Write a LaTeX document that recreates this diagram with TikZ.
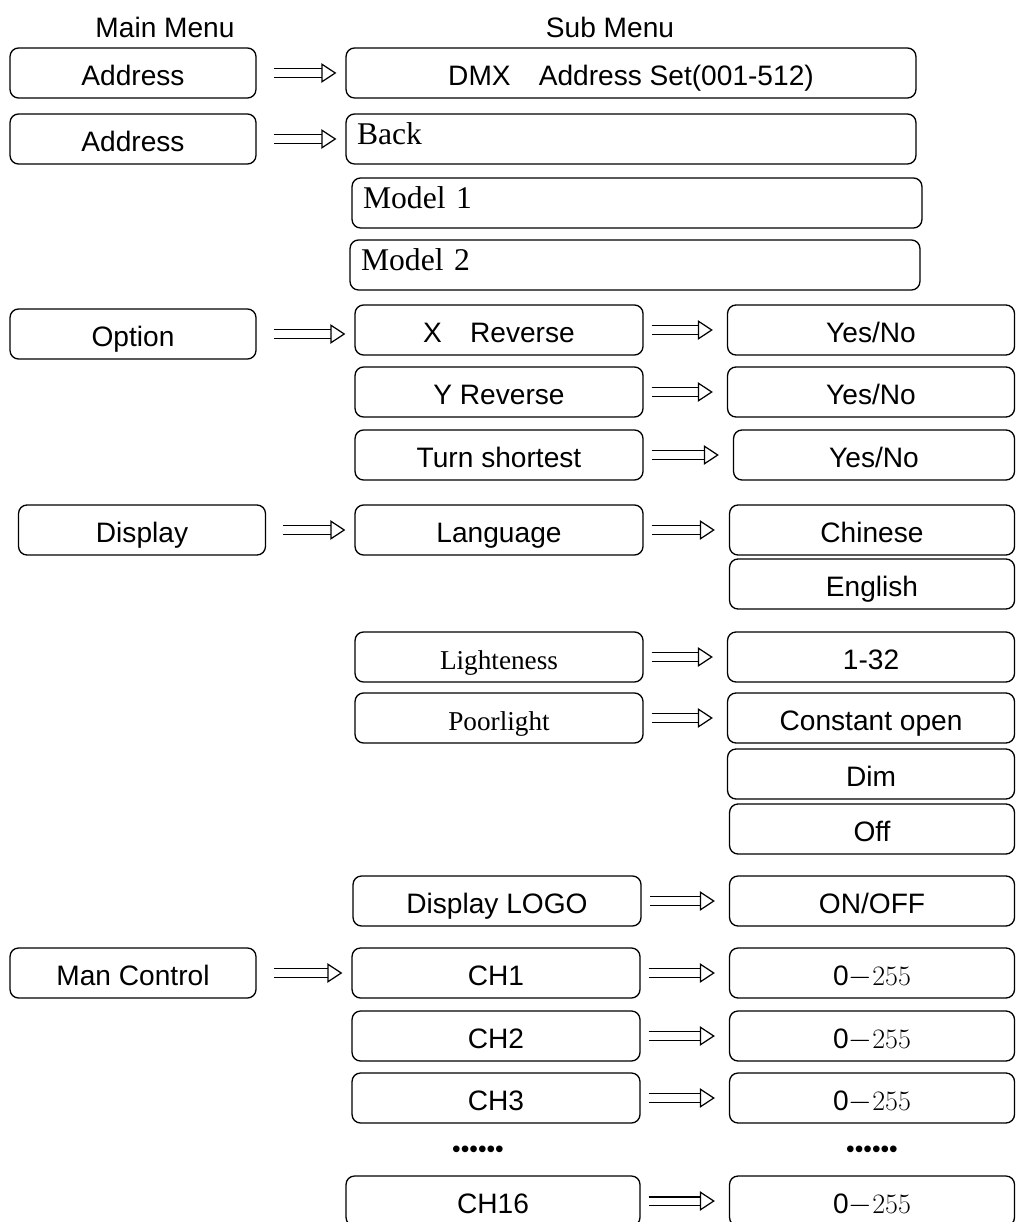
\documentclass[tikz,border=0pt]{standalone}
\usepackage{fontspec}
\setsansfont{Liberation Sans}
\newfontfamily\tms{Liberation Serif}
\usetikzlibrary{arrows.meta}
\tikzset{>=stealth}

\begin{document}
\begin{tikzpicture}[x=0.02cm, y=-0.02cm,
	mhead/.style = {% column titles
		inner sep=0pt, font=\sffamily\fontsize{16}{19}\selectfont},
	bx/.style = {% plain menu box
		draw, line width=0.75pt, rounded corners=0.17cm, inner sep=0pt,
		minimum height=1cm, text height=14pt, text depth=0pt,
		font=\sffamily\fontsize{16}{19}\selectfont},
	lbox/.style = {bx, minimum width=4.92cm},
	sbox/.style = {bx, minimum width=5.76cm},
	rbox/.style = {bx, minimum width=5.74cm},
	wbox/.style = {bx, minimum width=11.4cm},
	tbox/.style = {% serif, left aligned
		text width=10.96cm, inner xsep=0.22cm, align=left,
		text height=12pt, text depth=5.7pt,
		font=\tms\fontsize{18}{21}\selectfont},
	tms/.style = {font=\tms\fontsize{15.5}{18}\selectfont},
	dots/.style = {inner sep=0pt, font=\sffamily\fontsize{14}{16}\selectfont},
	go/.style = {% hollow arrow
		double, line width=0.7pt, double distance=4pt,
		-{Triangle[open, length=8.5pt, width=11pt]},
		shorten <=0.34cm, shorten >=0.18cm},
	go2/.style = {go, shorten <=0.16cm, shorten >=0.28cm},
	]

	\useasboundingbox (0,0) rectangle (1016,1222);

	% titles
	\node[mhead] (mainhd) at (165,27) {Main Menu};
	\node[mhead] (subhd) at (610,27) {Sub Menu};

	% main menu
	\node[lbox] (addr) at (133,73) {Address};
	\node[lbox] (addrb) at (133,139) {Address};
	\node[lbox] (opt) at (133,334) {Option};
	\node[lbox, minimum width=4.94cm] (disp) at (142,530) {Display};
	\node[lbox] (man) at (133,973) {Man Control};

	% sub menu
	\node[wbox] (dmx) at (631,73) {DMX\quad Address Set(001-512)};
	\node[wbox, tbox] (back) at (631,139) {Back};
	\node[wbox, tbox] (mod1) at (637,203) {Model 1};
	\node[wbox, tbox] (mod2) at (635,265) {Model 2};

	\node[sbox] (xrev) at (499,330) {X\quad Reverse};
	\node[sbox] (yrev) at (499,392) {Y Reverse};
	\node[sbox] (turn) at (499,455) {Turn shortest};
	\node[sbox] (lang) at (499,530) {Language};
	\node[sbox, tms] (light) at (499,657) {Lighteness};
	\node[sbox, tms] (poor) at (499,718) {Poorlight};
	\node[sbox] (logo) at (497,901) {Display LOGO};
	\node[sbox] (ch1) at (496,973) {CH1};
	\node[sbox] (ch2) at (496,1036) {CH2};
	\node[sbox] (ch3) at (496,1098) {CH3};
	\node[dots] (dotl) at (478,1152) {••••••};
	\node[sbox, minimum width=5.88cm] (ch16) at (493,1201) {CH16};

	% third level
	\node[rbox] (yes1) at (871,330) {Yes/No};
	\node[rbox] (yes2) at (871,392) {Yes/No};
	\node[rbox, minimum width=5.62cm] (yes3) at (874,455) {Yes/No};
	\node[rbox, minimum width=5.7cm] (chn) at (872,530) {Chinese};
	\node[rbox, minimum width=5.7cm] (eng) at (872,584) {English};
	\node[rbox] (lvl) at (871,657) {1-32};
	\node[rbox] (copen) at (871,718) {Constant open};
	\node[rbox] (dim) at (871,774) {Dim};
	\node[rbox, minimum width=5.7cm] (off) at (872,829) {Off};
	\node[rbox, minimum width=5.7cm] (onoff) at (872,901) {ON/OFF};
	\node[rbox, minimum width=5.7cm] (val1) at (872,973) {0$-${\rmfamily 255}};
	\node[rbox, minimum width=5.7cm] (val2) at (872,1036) {0$-${\rmfamily 255}};
	\node[rbox, minimum width=5.7cm] (val3) at (872,1098) {0$-${\rmfamily 255}};
	\node[dots] (dotr) at (872,1152) {••••••};
	\node[rbox, minimum width=5.7cm] (val16) at (872,1201) {0$-${\rmfamily 255}};

	% arrows
	\draw[go] (addr) -- (dmx);
	\draw[go] (addrb) -- (back);
	\draw[go] (opt) -- (opt -| xrev.west);
	\draw[go] (disp) -- (lang);
	\draw[go] (man) -- (ch1);
	\draw[go2] (xrev) -- (yes1);
	\draw[go2] (yrev) -- (yes2);
	\draw[go2] (turn) -- (yes3);
	\draw[go2] (lang) -- (chn);
	\draw[go2] (light) -- (lvl);
	\draw[go2] (poor) -- (copen);
	\draw[go2] (logo) -- (onoff);
	\draw[go2] (ch1) -- (val1);
	\draw[go2] (ch2) -- (val2);
	\draw[go2] (ch3) -- (val3);
	\draw[go2] (ch16) -- (val16);

\end{tikzpicture}
\end{document}
